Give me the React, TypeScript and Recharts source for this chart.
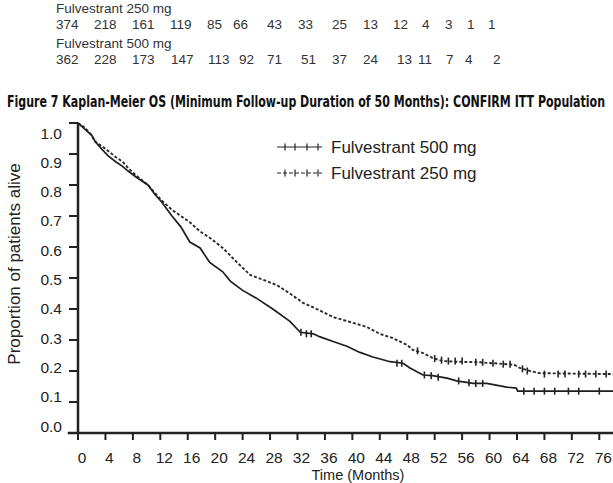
import React from 'react';
import { ComposedChart, Line, Scatter, XAxis, YAxis, ReferenceLine, Legend } from 'recharts';

// ---- Kaplan-Meier curves ----
// Upper (dashed) curve — Fulvestrant 250 mg per legend
const upperTimes = [0, 1, 2, 2.5, 3.5, 4.4, 5.5, 6.5, 7.3, 8.5, 10.2, 11.2, 12.2, 13.7, 15, 16.3, 17.8, 19.2, 21.1, 23.2, 25.1, 27, 29, 30.9, 32.8, 34.8, 37.2, 39.7, 42.1, 44, 45.9, 48, 48.8, 50.3, 51.7, 53.2, 55.2, 58.6, 62.5, 63.6, 64.4, 65.9, 67.3, 78];
const upperSurv = [1.0, 0.985, 0.96, 0.94, 0.925, 0.91, 0.89, 0.875, 0.855, 0.83, 0.8, 0.775, 0.75, 0.72, 0.7, 0.68, 0.65, 0.63, 0.597, 0.55, 0.51, 0.494, 0.477, 0.45, 0.42, 0.4, 0.374, 0.358, 0.342, 0.32, 0.306, 0.284, 0.268, 0.258, 0.242, 0.232, 0.23, 0.228, 0.222, 0.22, 0.21, 0.2, 0.193, 0.19];

// Lower (solid) curve — Fulvestrant 500 mg per legend
const lowerTimes = [0, 1, 2, 2.5, 3.5, 4.4, 5.5, 6.5, 7.3, 8.5, 10.2, 11.2, 12.2, 13.7, 15, 16.3, 17.8, 19.2, 21.1, 22.2, 24, 26, 28.4, 30.9, 32.4, 34.3, 35.3, 37.2, 39.2, 41.1, 43, 45.5, 47.4, 48.4, 50.3, 51.7, 53.8, 55.2, 57.6, 59.6, 62.5, 63.9, 64.1, 78];
const lowerSurv = [1.0, 0.98, 0.96, 0.94, 0.915, 0.894, 0.875, 0.86, 0.845, 0.825, 0.8, 0.77, 0.745, 0.7, 0.665, 0.616, 0.597, 0.55, 0.52, 0.49, 0.46, 0.435, 0.4, 0.36, 0.325, 0.32, 0.31, 0.295, 0.28, 0.26, 0.245, 0.23, 0.225, 0.21, 0.187, 0.185, 0.177, 0.168, 0.16, 0.16, 0.148, 0.145, 0.135, 0.135];

// Censor marks
const upperCensorTimes = [49.5, 52, 53, 54, 55, 56, 58, 59, 60.5, 62, 63, 64.8, 65.5, 68, 70, 71, 73, 74, 75.5, 77];
const upperCensorSurv = [0.265, 0.24, 0.235, 0.232, 0.232, 0.232, 0.228, 0.228, 0.225, 0.222, 0.222, 0.207, 0.2, 0.19, 0.19, 0.19, 0.19, 0.19, 0.19, 0.19];
const lowerCensorTimes = [32.5, 33.3, 34, 46.5, 47.2, 50.5, 51.5, 52.5, 55.5, 57, 58, 59, 65, 66.5, 68, 69.5, 71.5, 73, 76];
const lowerCensorSurv = [0.325, 0.32, 0.32, 0.225, 0.225, 0.187, 0.185, 0.18, 0.168, 0.162, 0.16, 0.16, 0.135, 0.135, 0.135, 0.135, 0.135, 0.135, 0.135];

// Axis ticks
const xTicks = [0, 4, 8, 12, 16, 20, 24, 28, 32, 36, 40, 44, 48, 52, 56, 60, 64, 68, 72, 76];
const yTicks = [0, 0.1, 0.2, 0.3, 0.4, 0.5, 0.6, 0.7, 0.8, 0.9, 1.0];

// Numbers at risk
const atRiskGroups = ['Fulvestrant 250 mg', 'Fulvestrant 500 mg'];
const atRisk250 = [374, 218, 161, 119, 85, 66, 43, 33, 25, 13, 12, 4, 3, 1, 1];
const atRisk500 = [362, 228, 173, 147, 113, 92, 71, 51, 37, 24, 13, 11, 7, 4, 2];

// layout only (x of each at-risk number)
const atRiskX250 = [56, 94, 132, 170, 207, 233, 267, 298, 332, 363, 393, 422, 445, 467, 488];
const atRiskX500 = [56, 94, 132, 171, 208, 239, 267, 301, 332, 363, 397, 418, 446, 465, 493];

const title = 'Figure 7 Kaplan-Meier OS (Minimum Follow-up Duration of 50 Months): CONFIRM ITT Population';
const legendLabels = ['Fulvestrant 500 mg', 'Fulvestrant 250 mg'];

const upperData = upperTimes.map((t, i) => ({ t, s: upperSurv[i] }));
const lowerData = lowerTimes.map((t, i) => ({ t, s: lowerSurv[i] }));
const upperCensor = upperCensorTimes.map((t, i) => ({ t, s: upperCensorSurv[i] }));
const lowerCensor = lowerCensorTimes.map((t, i) => ({ t, s: lowerCensorSurv[i] }));

const W = 613;
const H = 483;
const INK = '#222';
const FONT = '"Liberation Sans", Arial, Helvetica, sans-serif';
const TITLE_SX = 0.765;
const TITLE_W = 598;

const CensorTick = (props: any) => {
  const { cx, cy } = props;
  if (cx == null || cy == null) return <g />;
  return <line x1={cx} x2={cx} y1={cy - 3.5} y2={cy + 3.5} stroke={INK} strokeWidth={1.6} />;
};

const YTick = (props: any) => {
  const { x, y, payload } = props;
  const v = Number(payload.value);
  const off = -7 + 17 * v;
  return (
    <text x={x} y={y + off} dy="0.355em" textAnchor="end" fontSize={15.5} fontFamily={FONT} fill={INK}>
      {v.toFixed(1)}
    </text>
  );
};

const XTick = (props: any) => {
  const { x, y, payload } = props;
  return (
    <text x={x + 4} y={y} dy="0.71em" textAnchor="middle" fontSize={15.5} fontFamily={FONT} fill={INK}>
      {payload.value}
    </text>
  );
};

const LegendContent = () => {
  const ticks = [285, 295, 307, 318].map((v) => v - 277);
  return (
    <svg width={230} height={50} style={{ overflow: 'visible', display: 'block' }}>
      <line x1={0} x2={45} y1={12} y2={12} stroke={INK} strokeWidth={1.2} />
      {ticks.map((tx, i) => (
        <line key={'a' + i} x1={tx} x2={tx} y1={8.5} y2={15.5} stroke={INK} strokeWidth={1.2} />
      ))}
      <text x={54} y={18} fontSize={17} fontFamily={FONT} fill={INK}>{legendLabels[0]}</text>
      <line x1={0} x2={45} y1={38} y2={38} stroke={INK} strokeWidth={1.2} strokeDasharray="4 2" />
      {ticks.map((tx, i) => (
        <line key={'b' + i} x1={tx} x2={tx} y1={34.5} y2={41.5} stroke={INK} strokeWidth={1.2} />
      ))}
      <text x={54} y={44} fontSize={17} fontFamily={FONT} fill={INK}>{legendLabels[1]}</text>
    </svg>
  );
};

export default function App() {
  return (
    <div style={{ position: 'absolute', left: 0, top: 0, width: W, height: H, background: '#fff', overflow: 'hidden' }}>
      <ComposedChart
        width={W}
        height={H}
        margin={{ top: 123, right: 0, bottom: 0, left: 0 }}
        style={{ position: 'absolute', left: 0, top: 0 }}
      >
        <XAxis
          dataKey="t"
          type="number"
          domain={[0, 78]}
          ticks={xTicks}
          allowDataOverflow
          height={50}
          axisLine={false}
          tickLine={{ stroke: INK, strokeWidth: 2 }}
          tickSize={7}
          tickMargin={12}
          tick={<XTick />}
          interval={0}
        />
        <YAxis
          type="number"
          domain={[0, 1]}
          ticks={yTicks}
          width={78}
          axisLine={{ stroke: INK, strokeWidth: 2.5 }}
          tickLine={{ stroke: INK, strokeWidth: 2 }}
          tickSize={9}
          tickMargin={7}
          tick={<YTick />}
          interval={0}
        />
        <ReferenceLine
          segment={[{ x: -1.5, y: 0 }, { x: 78, y: 0 }]}
          stroke={INK}
          strokeWidth={2.5}
          ifOverflow="visible"
        />
        <Line
          data={upperData}
          dataKey="s"
          type="linear"
          stroke="#2a2a2a"
          strokeWidth={1.9}
          strokeDasharray="3 2"
          dot={false}
          isAnimationActive={false}
          name={legendLabels[1]}
        />
        <Line
          data={lowerData}
          dataKey="s"
          type="linear"
          stroke="#1e1e1e"
          strokeWidth={1.7}
          dot={false}
          isAnimationActive={false}
          name={legendLabels[0]}
        />
        <Scatter data={upperCensor} dataKey="s" shape={CensorTick} isAnimationActive={false} />
        <Scatter data={lowerCensor} dataKey="s" shape={CensorTick} isAnimationActive={false} />
        <Legend
          layout="horizontal"
          verticalAlign="middle"
          align="center"
          content={LegendContent}
          wrapperStyle={{ position: 'absolute', left: 277, top: 135, width: 230, height: 50 }}
        />
      </ComposedChart>
      <svg
        width={W}
        height={H}
        style={{ position: 'absolute', left: 0, top: 0, pointerEvents: 'none' }}
      >
        <text x={56} y={12.5} fontSize={13.5} fontFamily={FONT} fill="#333">{atRiskGroups[0]}</text>
        {atRisk250.map((n, i) => (
          <text key={'r1' + i} x={atRiskX250[i]} y={29} fontSize={13.5} fontFamily={FONT} fill="#333">{n}</text>
        ))}
        <text x={56} y={47.5} fontSize={13.5} fontFamily={FONT} fill="#333">{atRiskGroups[1]}</text>
        {atRisk500.map((n, i) => (
          <text key={'r2' + i} x={atRiskX500[i]} y={64} fontSize={13.5} fontFamily={FONT} fill="#333">{n}</text>
        ))}
        <g transform={`translate(7,107) scale(${TITLE_SX},1)`}>
          <text
            x={0}
            y={0}
            fontSize={16}
            fontWeight="bold"
            fontFamily='"Liberation Sans Narrow", "DejaVu Sans Condensed", "Liberation Sans", sans-serif'
            fill="#111"
            textLength={TITLE_W / TITLE_SX}
            lengthAdjust="spacingAndGlyphs"
          >
            {title}
          </text>
        </g>
        <text
          x={0}
          y={0}
          transform="translate(20,264) rotate(-90)"
          textAnchor="middle"
          fontSize={17}
          fontFamily={FONT}
          fill={INK}
        >
          Proportion of patients alive
        </text>
        <text x={358} y={479.8} textAnchor="middle" fontSize={14.5} fontFamily={FONT} fill={INK}>
          Time (Months)
        </text>
      </svg>
    </div>
  );
}
